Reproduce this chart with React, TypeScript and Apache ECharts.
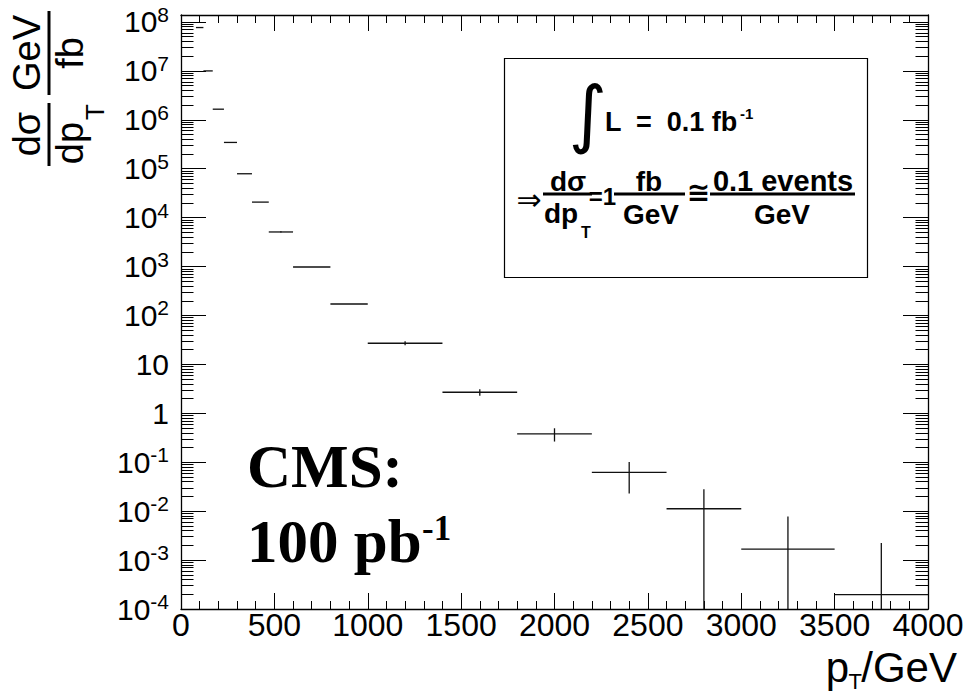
import React, { useEffect, useRef } from "react";
import * as echarts from "echarts";

// pT bins (GeV)
const binLow = [80, 120, 170, 230, 300, 380, 470, 600, 800, 1000, 1400, 1800, 2200, 2600, 3000, 3500];
const binHigh = [120, 170, 230, 300, 380, 470, 600, 800, 1000, 1400, 1800, 2200, 2600, 3000, 3500, 4000];
// dσ/dpT (fb/GeV)
const crossSection = [7.7e7, 1.0e7, 1.65e6, 3.45e5, 7.9e4, 2.08e4, 5.1e3, 980, 172, 27.1, 2.7, 0.38, 0.062, 0.0112, 0.00168, 0.000196];
// statistical uncertainty (fb/GeV)
const statError = [0, 0, 0, 0, 0, 0, 150, 0, 0, 2.5, 0.4, 0.115, 0.039, 0.017, 0.0061, 0.00204];

// y tick decades (exponents of 10)
const yDecades = [-4, -3, -2, -1, 0, 1, 2, 3, 4, 5, 6, 7, 8];
const yMinorFactors = [2, 3, 4, 5, 6, 7, 8, 9];

const X_MIN = 0;
const X_MAX = 4000;
const Y_MIN = -4;
const Y_MAX = 8.143;

const SANS = "Liberation Sans";
const SERIF = "Liberation Serif";

const minorPositions: number[] = [];
yDecades.forEach((d) => {
  yMinorFactors.forEach((f) => {
    const p = d + Math.log10(f);
    if (p < Y_MAX) minorPositions.push(p);
  });
});

const yLabel = (v: number) => {
  if (v === 0) return "{p|1}";
  if (v === 1) return "{p|10}";
  return `{b|10}{s|${v}}`;
};

const data = binLow.map((lo, i) => {
  const v = crossSection[i];
  const e = statError[i];
  const up = Math.min(Math.log10(v + e), Y_MAX);
  const dn = v - e > 0 ? Math.max(Math.log10(v - e), Y_MIN) : Y_MIN;
  return [lo, binHigh[i], Math.log10(v), up, dn, e];
});

const black = "#000";

const xAxisBase = (pos: "bottom" | "top", labels: boolean) => ({
  type: "value",
  position: pos,
  min: X_MIN,
  max: X_MAX,
  interval: 500,
  axisLine: { show: true, onZero: false, lineStyle: { color: black, width: 1.3 } },
  axisTick: { show: true, inside: true, length: 16, lineStyle: { color: black, width: 1 } },
  minorTick: { show: true, splitNumber: 5, length: 8, lineStyle: { color: black, width: 1 } },
  splitLine: { show: false },
  axisLabel: {
    show: labels,
    color: black,
    fontFamily: SANS,
    fontSize: 32,
    lineHeight: 30,
    margin: 1,
    showMinLabel: true,
    showMaxLabel: true,
    formatter: (v: number) => String(v),
  },
});

const yAxisBase = (pos: "left" | "right", major: boolean, labels: boolean) => ({
  type: "value",
  position: pos,
  min: Y_MIN,
  max: Y_MAX,
  axisLine: { show: major, onZero: false, lineStyle: { color: black, width: 1.3 } },
  axisTick: {
    show: true,
    inside: true,
    length: major ? 25 : 12.5,
    customValues: major ? yDecades : minorPositions,
    lineStyle: { color: black, width: 1 },
  },
  splitLine: { show: false },
  axisLabel: {
    show: labels,
    customValues: yDecades,
    formatter: yLabel,
    margin: 12,
    rich: {
      b: { fontFamily: SANS, fontSize: 30, color: black, lineHeight: 36 },
      s: { fontFamily: SANS, fontSize: 21, color: black, lineHeight: 22, verticalAlign: "top" },
      p: { fontFamily: SANS, fontSize: 30, color: black, lineHeight: 36 },
    },
  },
});

const t = (x: number, y: number, text: string, size: number, opts: any = {}) => ({
  type: "text",
  x,
  y,
  rotation: opts.rotation || 0,
  z: 100,
  style: {
    text,
    fontFamily: opts.family || SANS,
    fontSize: size,
    fontWeight: opts.weight || "normal",
    fill: black,
    align: opts.align || "center",
    verticalAlign: "middle",
    lineHeight: opts.lineHeight,
  },
});

const bar = (x1: number, y1: number, x2: number, y2: number, w = 3) => ({
  type: "line",
  z: 100,
  shape: { x1, y1, x2, y2 },
  style: { stroke: black, lineWidth: w },
});

const R = Math.PI / 2;
const graphic: any[] = [
  // y-axis title (rotated)
  t(27, 53, "GeV", 38, { rotation: R }),
  bar(49, 11, 49, 95),
  t(70, 53, "fb", 38, { rotation: R }),
  t(27, 134, "dσ", 38, { rotation: R }),
  bar(49, 103, 49, 166),
  t(70, 143, "dp", 38, { rotation: R }),
  t(95, 112, "T", 26, { rotation: R }),
  // x-axis title
  t(957, 667, "/GeV", 42, { align: "right", lineHeight: 40 }),
  t(862, 681, "T", 22, { align: "right", lineHeight: 20 }),
  t(849, 667, "p", 42, { align: "right", lineHeight: 40 }),
  // information box
  {
    type: "rect",
    z: 90,
    shape: { x: 504.5, y: 58.5, width: 363, height: 219 },
    style: { fill: "#fff", stroke: black, lineWidth: 1.2 },
  },
  t(588, 113, "∫", 74, { family: "DejaVu Sans" }),
  t(605, 122, "L  =  0.1 fb", 27, { weight: "bold", align: "left" }),
  t(740, 113, "-1", 15, { weight: "bold", align: "left" }),
  t(529, 199, "⇒", 30, { family: "DejaVu Sans" }),
  t(568, 181, "dσ", 28, { weight: "bold" }),
  bar(543, 194, 592, 194),
  t(561, 213, "dp", 28, { weight: "bold" }),
  t(586, 232, "T", 16, { weight: "bold" }),
  t(602.5, 196, "=1", 24, { weight: "bold" }),
  bar(614, 194, 685, 194),
  t(649, 181, "fb", 28, { weight: "bold" }),
  t(651, 214, "GeV", 28, { weight: "bold" }),
  t(698.5, 192, "≅", 28, { family: "DejaVu Sans", weight: "bold" }),
  bar(710, 194, 855, 194),
  t(783, 181, "0.1 events", 29, { weight: "bold" }),
  t(782, 214, "GeV", 28, { weight: "bold" }),
  // CMS annotation
  t(247, 466, "CMS:", 61, { family: SERIF, weight: "bold", align: "left" }),
  t(247, 541, "100 pb", 61, { family: SERIF, weight: "bold", align: "left" }),
  t(422, 528, "-1", 35, { family: SERIF, weight: "bold", align: "left" }),
];

const option: any = {
  animation: false,
  backgroundColor: "#fff",
  grid: { left: 181, top: 15, width: 747, height: 594, containLabel: false },
  xAxis: [xAxisBase("bottom", true), xAxisBase("top", false)],
  yAxis: [
    yAxisBase("left", true, true),
    yAxisBase("left", false, false),
    yAxisBase("right", true, false),
    yAxisBase("right", false, false),
  ],
  series: [
    {
      type: "custom",
      xAxisIndex: 0,
      yAxisIndex: 0,
      clip: true,
      encode: { x: [0, 1], y: [2, 3, 4] },
      data,
      renderItem: (params: any, api: any) => {
        const lo = api.value(0);
        const hi = api.value(1);
        const yv = api.value(2);
        const up = api.value(3);
        const dn = api.value(4);
        const e = api.value(5);
        const pL = api.coord([lo, yv]);
        const pR = api.coord([hi, yv]);
        const c = (lo + hi) / 2;
        const pU = api.coord([c, up]);
        const pD = api.coord([c, dn]);
        const children: any[] = [
          {
            type: "line",
            shape: { x1: pL[0], y1: pL[1], x2: pR[0], y2: pR[1] },
            style: { stroke: "#111", lineWidth: 1.3 },
          },
        ];
        if (e > 0) {
          children.push({
            type: "line",
            shape: { x1: pU[0], y1: pU[1], x2: pD[0], y2: pD[1] },
            style: { stroke: "#111", lineWidth: 1.3 },
          });
        }
        return { type: "group", children };
      },
    },
  ],
  graphic,
};

export default function App() {
  const ref = useRef<HTMLDivElement>(null);
  useEffect(() => {
    if (!ref.current) return;
    const chart = echarts.init(ref.current, null, { renderer: "svg" });
    chart.setOption(option);
    return () => chart.dispose();
  }, []);
  return (
    <div
      ref={ref}
      style={{ position: "fixed", left: 0, top: 0, width: 969, height: 695, background: "#fff" }}
    />
  );
}
